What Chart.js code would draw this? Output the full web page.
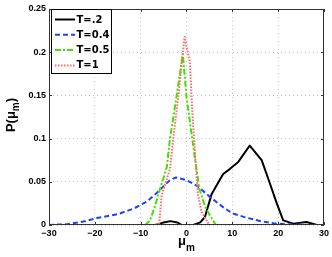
<!DOCTYPE html>
<html>
<head>
<meta charset="utf-8">
<script src="https://cdn.jsdelivr.net/npm/chart.js@4/dist/chart.umd.min.js"></script>
<style>
  html, body { margin: 0; padding: 0; background: #fff; }
  #c { display: block; }
</style>
</head>
<body>
<canvas id="c" width="332" height="257"></canvas>
<script>
// series (x = mu_m, y = P(mu_m))
const seriesLabels = ['T=.2', 'T=0.4', 'T=0.5', 'T=1'];

const t02X = [-30, -7, -6, -5, -3.5, -2, -1, 1.5, 3, 4, 5.5, 8, 9.5, 11.3, 13.8, 16.4, 18.2, 19.7, 21.1, 23.3, 26.2, 28.4, 30];
const t02Y = [0, 0, 0.001, 0.003, 0.0045, 0.003, 0, 0, 0.003, 0.009, 0.036, 0.059, 0.065, 0.073, 0.092, 0.075, 0.048, 0.025, 0.0054, 0.0016, 0.0035, 0, 0];

const t04X = [-30, -26, -22.5, -19.5, -15, -11.5, -8.7, -6.5, -5, -3.6, -2.3, 0, 2.4, 5, 7.9, 10, 13, 16, 19, 22, 26, 30];
const t04Y = [0, 0.001, 0.004, 0.008, 0.0125, 0.019, 0.027, 0.037, 0.045, 0.052, 0.055, 0.052, 0.045, 0.033, 0.021, 0.0135, 0.0086, 0.0046, 0.002, 0.001, 0, 0];

const t05X = [-30, -9, -8, -7, -6, -5, -4.3, -3.6, -2.2, -0.8, 0, 1.85, 2.8, 4, 5, 6.4, 30];
const t05Y = [0, 0, 0.005, 0.02, 0.038, 0.055, 0.067, 0.1, 0.148, 0.198, 0.148, 0.077, 0.042, 0.022, 0.012, 0, 0];

const t1X = [-30, -6, -5.4, -3.6, -2.9, -1.8, -1.05, -0.4, 0.76, 1.1, 1.5, 2.1, 2.5, 3.3, 4.3, 5, 30];
const t1Y = [0, 0, 0.035, 0.065, 0.1, 0.148, 0.187, 0.218, 0.187, 0.148, 0.112, 0.065, 0.035, 0.015, 0.006, 0, 0];

const xTickValues = [-30, -20, -10, 0, 10, 20, 30];
const xTickLabels = ['\u221230', '\u221220', '\u221210', '0', '10', '20', '30'];
const yTickValues = [0, 0.05, 0.1, 0.15, 0.2, 0.25];
const yTickLabels = ['0', '0.05', '0.1', '0.15', '0.2', '0.25'];

const pts = (xs, ys) => xs.map((x, i) => ({ x, y: ys[i] }));

const tickFont = { family: "'Liberation Sans', Arial, sans-serif", size: 9, weight: 'bold' };

// box around the axes with inward ticks, MATLAB style
const axesBox = {
  id: 'axesBox',
  afterDatasetsDraw(chart) {
    const { ctx, chartArea: a, scales } = chart;
    ctx.save();
    ctx.strokeStyle = '#333';
    ctx.lineWidth = 1;
    ctx.setLineDash([]);
    ctx.strokeRect(Math.round(a.left) + 0.5, Math.round(a.top) + 0.5,
      Math.round(a.right - a.left) - 1, Math.round(a.bottom - a.top) - 1);
    ctx.beginPath();
    xTickValues.forEach(v => {
      const px = Math.round(scales.x.getPixelForValue(v)) + 0.5;
      ctx.moveTo(px, a.bottom); ctx.lineTo(px, a.bottom - 3);
      ctx.moveTo(px, a.top); ctx.lineTo(px, a.top + 3);
    });
    yTickValues.forEach(v => {
      const py = Math.round(scales.y.getPixelForValue(v)) + 0.5;
      ctx.moveTo(a.left, py); ctx.lineTo(a.left + 3, py);
      ctx.moveTo(a.right, py); ctx.lineTo(a.right - 3, py);
    });
    ctx.stroke();
    ctx.restore();
  },
  afterDraw(chart) {
    const { ctx, chartArea: a, data } = chart;
    ctx.save();
    // legend
    const lx = 51.5, ly = 9.5, lw = 60, lh = 64;
    ctx.fillStyle = '#fff';
    ctx.fillRect(lx, ly, lw, lh);
    ctx.strokeStyle = '#000';
    ctx.lineWidth = 1;
    ctx.setLineDash([]);
    ctx.strokeRect(lx, ly, lw, lh);
    ctx.font = "bold 10px 'DejaVu Sans', sans-serif";
    ctx.textBaseline = 'middle';
    ctx.textAlign = 'left';
    data.datasets.forEach((ds, i) => {
      const y = 19.5 + i * 15.3;
      ctx.strokeStyle = ds.borderColor;
      ctx.lineWidth = ds.borderWidth;
      ctx.setLineDash(ds.borderDash || []);
      ctx.beginPath();
      ctx.moveTo(55, y); ctx.lineTo(75, y);
      ctx.stroke();
      ctx.fillStyle = '#000';
      ctx.fillText(seriesLabels[i], 76.5, y + 0.5);
    });
    ctx.setLineDash([]);
    // axis titles with subscript m
    ctx.fillStyle = '#000';
    ctx.textBaseline = 'alphabetic';
    const big = "bold 13px 'Liberation Sans', Arial, sans-serif";
    const small = "bold 10px 'Liberation Sans', Arial, sans-serif";
    // x title
    ctx.font = big;
    const wMu = ctx.measureText('\u03bc').width;
    ctx.font = small;
    const wM = ctx.measureText('m').width;
    let x0 = (a.left + a.right) / 2 - (wMu + wM) / 2;
    ctx.font = big;
    ctx.fillText('\u03bc', x0, 245);
    ctx.font = small;
    ctx.fillText('m', x0 + wMu, 251);
    // y title, rotated
    ctx.translate(15, (a.top + a.bottom) / 2 - 2);
    ctx.rotate(-Math.PI / 2);
    ctx.font = big;
    const wP = ctx.measureText('P(\u03bc').width;
    const wC = ctx.measureText(')').width;
    const total = wP + wM + wC;
    let tx = -total / 2;
    ctx.fillText('P(\u03bc', tx, 0);
    ctx.font = small;
    ctx.fillText('m', tx + wP, 4);
    ctx.font = big;
    ctx.fillText(')', tx + wP + wM, 0);
    ctx.restore();
  }
};

new Chart(document.getElementById('c'), {
  type: 'line',
  data: {
    datasets: [
      { data: pts(t02X, t02Y), borderColor: '#000000', borderWidth: 2, order: 4 },
      { data: pts(t04X, t04Y), borderColor: '#2040ff', borderWidth: 2, borderDash: [5, 3], order: 3 },
      { data: pts(t05X, t05Y), borderColor: '#44e000', borderWidth: 2, borderDash: [6, 2, 2, 2], order: 2 },
      { data: pts(t1X, t1Y), borderColor: '#ff6868', borderWidth: 2, borderDash: [1.5, 1.5], order: 1 },
    ],
  },
  options: {
    responsive: false,
    animation: false,
    devicePixelRatio: 1,
    layout: { padding: { top: 9, right: 8, left: 0, bottom: 0 } },
    elements: { point: { radius: 0 }, line: { tension: 0, fill: false, borderJoinStyle: 'round' } },
    plugins: { legend: { display: false }, tooltip: { enabled: false } },
    scales: {
      x: {
        type: 'linear', min: -30, max: 30,
        afterBuildTicks: s => { s.ticks = xTickValues.map(v => ({ value: v })); },
        afterFit: s => { s.height = 32; },
        ticks: { font: tickFont, color: '#000', padding: 3, maxRotation: 0,
          callback: (v) => xTickLabels[xTickValues.indexOf(v)] },
        grid: { color: '#c4c4c4', lineWidth: 1, drawTicks: false },
        border: { display: false, dash: [1, 3] },
      },
      y: {
        type: 'linear', min: 0, max: 0.25,
        afterBuildTicks: s => { s.ticks = yTickValues.map(v => ({ value: v })); },
        afterFit: s => { s.width = 49; },
        ticks: { font: tickFont, color: '#000', padding: 3,
          callback: (v) => yTickLabels[yTickValues.indexOf(v)] },
        grid: { color: '#c4c4c4', lineWidth: 1, drawTicks: false },
        border: { display: false, dash: [1, 3] },
      },
    },
  },
  plugins: [axesBox],
});
</script>
</body>
</html>
